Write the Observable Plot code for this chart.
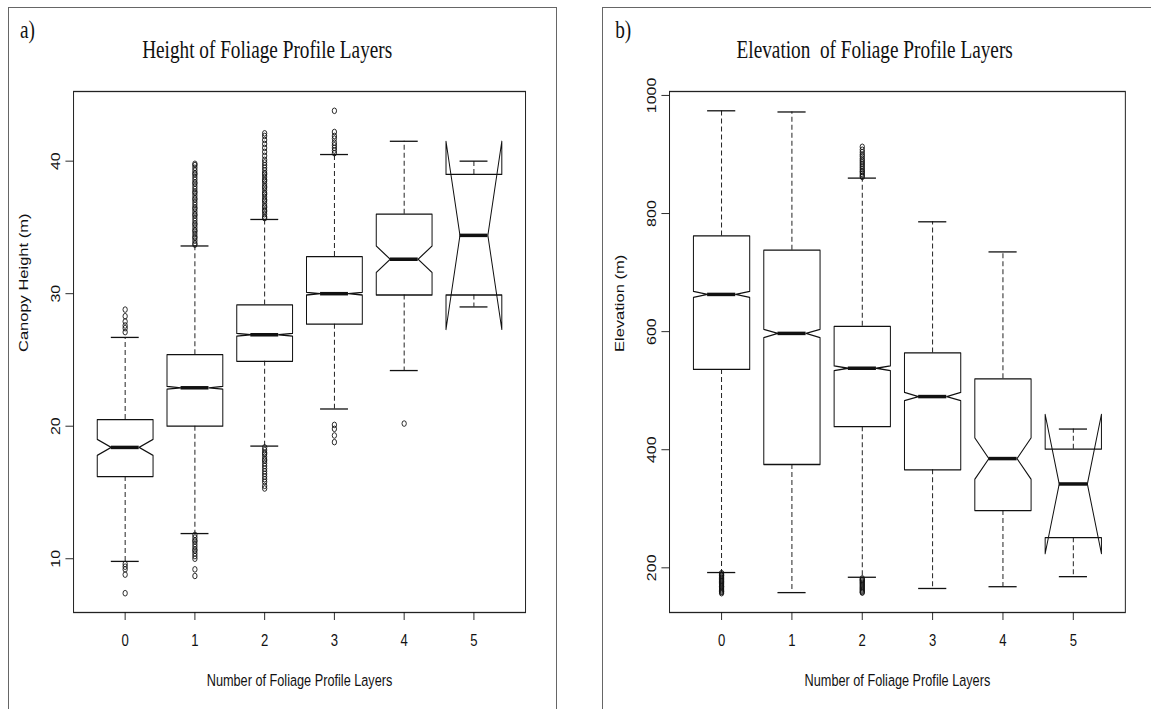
<!DOCTYPE html>
<html>
<head>
<meta charset="utf-8">
<script src="https://cdn.jsdelivr.net/npm/d3@7"></script>
<script src="https://cdn.jsdelivr.net/npm/@observablehq/plot@0.6"></script>
<style>
  html, body { margin: 0; padding: 0; background: #fff; }
  #page { position: relative; width: 1151px; height: 709px; overflow: hidden; background: #fff; }
  /* the whole figure is drawn narrower than tall, as in the printed version */
  #squeeze { position: absolute; left: 0; top: 0; width: 1495px; height: 709px;
             transform: scaleX(0.77); transform-origin: 0 0; }
  #squeeze > svg { position: absolute; top: 0; }
  .panel-border { position: absolute; border: 1.5px solid #666; box-sizing: border-box; }
  .title { font-family: "Liberation Serif", "Times New Roman", serif; fill: #111; white-space: pre; }
</style>
</head>
<body>
<div id="page">
  <div class="panel-border" style="left:8px; top:7px; width:549px; height:730px"></div>
  <div class="panel-border" style="left:602px; top:7px; width:600px; height:730px"></div>
  <div id="squeeze"></div>
</div>
<script>
// Number of foliage profile layers (one box per layer count)
const layers = [0, 1, 2, 3, 4, 5];

// a) Canopy height (m): whiskers, hinges, medians and notch half-widths
const heightLower  = [9.8, 11.9, 18.5, 21.3, 24.2, 29.0];
const heightQ1     = [16.2, 20.0, 24.9, 27.7, 29.9, 29.9];
const heightMedian = [18.4, 22.9, 26.9, 30.0, 32.6, 34.4];
const heightQ3     = [20.5, 25.4, 29.15, 32.8, 36.0, 39.0];
const heightUpper  = [26.7, 33.6, 35.6, 40.5, 41.5, 40.0];
const heightNotch  = [0.6, 0.1, 0.1, 0.1, 1.0, 7.1];
const heightOutliers = [
  [27.1, 27.4, 27.6, 27.9, 28.3, 28.8, 9.6, 9.4, 9.2, 8.8, 7.4],
  [33.7, 33.8, 34.0, 34.2, 34.3, 34.5, 34.7, 34.8, 35.0, 35.2, 35.3, 35.5, 35.7, 35.9, 36.0, 36.2,
   36.4, 36.5, 36.7, 36.9, 37.1, 37.2, 37.4, 37.6, 37.7, 37.9, 38.1, 38.3, 38.4, 38.6, 38.8, 39.0,
   39.1, 39.3, 39.5, 39.7, 39.8,
   11.8, 11.6, 11.4, 11.3, 11.1, 10.9, 10.7, 10.6, 10.4, 10.2, 10.0, 9.2, 8.7],
  [35.7, 35.8, 36.0, 36.2, 36.3, 36.5, 36.6, 36.8, 37.0, 37.1, 37.3, 37.5, 37.6, 37.8, 38.0, 38.1,
   38.3, 38.5, 38.6, 38.8, 39.0, 39.1, 39.3, 39.5, 39.7, 39.9, 40.1, 40.4, 40.7, 41.0, 41.3, 41.6,
   41.9, 42.1,
   18.4, 18.2, 18.0, 17.9, 17.7, 17.5, 17.4, 17.2, 17.0, 16.8, 16.6, 16.4, 16.2, 16.0, 15.8, 15.5, 15.3],
  [40.6, 40.8, 41.0, 41.2, 41.4, 41.7, 41.9, 42.2, 43.8, 20.1, 19.8, 19.3, 18.8],
  [20.2],
  []
];
const heightTicks = [10, 20, 30, 40];

// b) Elevation (m)
const elevLower  = [192, 158, 184, 165, 168, 185];
const elevQ1     = [536, 375, 439, 366, 297, 251];
const elevMedian = [663, 597, 538, 490, 385, 342];
const elevQ3     = [762, 738, 609, 564, 520, 401];
const elevUpper  = [974, 972, 860, 786, 735, 435];
const elevNotch  = [5, 7, 4, 7, 35, 118];
const elevOutliers = [
  [191, 189, 187, 186, 184, 182, 180, 178, 177, 175, 173, 171, 169, 168, 166, 164, 162, 160, 159, 157],
  [],
  [862, 864, 867, 870, 872, 875, 878, 881, 884, 887, 890, 893, 897, 900, 904, 908, 913,
   182, 180, 179, 177, 175, 173, 171, 169, 167, 165, 163, 161, 159, 158],
  [], [], []
];
const elevTicks = [200, 400, 600, 800, 1000];

const xLabel = "Number of Foliage Profile Layers";
const sans = "'Liberation Sans', Arial, Helvetica, sans-serif";

// Notched box-and-whisker panel in the style of R's boxplot(notch = TRUE)
function boxPanel({lower, q1, median, q3, upper, notch, outliers, ticks, yLabel,
                   width, marginLeft, marginRight}) {
  const half = 0.4, inner = 0.2, cap = 0.2;
  const stats = layers.map((layer, i) => ({
    layer, lower: lower[i], q1: q1[i], median: median[i], q3: q3[i], upper: upper[i],
    lo: median[i] - notch[i], hi: median[i] + notch[i]
  }));
  // closed outline: hinges joined through the notch at the median
  const outline = stats.flatMap(s => {
    const L = s.layer - half, R = s.layer + half;
    return [
      [L, s.q1], [R, s.q1], [R, s.lo], [s.layer + inner, s.median], [R, s.hi], [R, s.q3],
      [L, s.q3], [L, s.hi], [s.layer - inner, s.median], [L, s.lo], [L, s.q1]
    ].map(([x, y]) => ({layer: s.layer, x, y}));
  });
  const points = layers.flatMap((layer, i) => outliers[i].map(value => ({layer, value})));

  // y range as R extends it: 4% beyond the data on each side
  const all = [...lower, ...upper, ...points.map(p => p.value)];
  const [dmin, dmax] = d3.extent(all);
  const pad = 0.04 * (dmax - dmin);

  return Plot.plot({
    width, height: 709,
    marginLeft, marginRight, marginTop: 91, marginBottom: 97,
    style: {fontFamily: sans, background: "transparent", overflow: "visible", color: "#111"},
    x: {type: "linear", domain: [-0.5 - 0.24, layers.length - 0.5 + 0.24]},
    y: {domain: [dmin - pad, dmax + pad]},
    marks: [
      Plot.frame({stroke: "#222", strokeWidth: 1.3}),
      Plot.axisX(layers, {tickSize: 8, tickPadding: 13, fontSize: 17, tickFormat: d => String(d), label: null}),
      Plot.axisY(ticks, {tickSize: 10, tickRotate: -90, tickPadding: 8, fontSize: 16,
                         tickFormat: d => String(d), label: null}),
      Plot.text([xLabel], {text: d => d, frameAnchor: "bottom", dy: 73, fontSize: 16.5}),
      Plot.text([yLabel], {text: d => d, frameAnchor: "left", dx: -65, rotate: -90, fontSize: 16.5}),
      Plot.ruleX(stats, {x: "layer", y1: "q3", y2: "upper", strokeDasharray: "5,3", strokeWidth: 1.2}),
      Plot.ruleX(stats, {x: "layer", y1: "q1", y2: "lower", strokeDasharray: "5,3", strokeWidth: 1.2}),
      Plot.ruleY(stats, {y: "upper", x1: d => d.layer - cap, x2: d => d.layer + cap, strokeWidth: 1.3}),
      Plot.ruleY(stats, {y: "lower", x1: d => d.layer - cap, x2: d => d.layer + cap, strokeWidth: 1.3}),
      Plot.line(outline, {x: "x", y: "y", z: "layer", stroke: "#111", strokeWidth: 1.3, curve: "linear"}),
      Plot.ruleY(stats, {y: "median", x1: d => d.layer - inner, x2: d => d.layer + inner, strokeWidth: 3.5}),
      Plot.dot(points, {x: "layer", y: "value", r: 2.8, stroke: "#111", fill: "none", strokeWidth: 1})
    ]
  });
}

const squeeze = document.getElementById("squeeze");

const left = boxPanel({
  lower: heightLower, q1: heightQ1, median: heightMedian, q3: heightQ3, upper: heightUpper,
  notch: heightNotch, outliers: heightOutliers, ticks: heightTicks, yLabel: "Canopy Height (m)",
  width: 720, marginLeft: 95, marginRight: 38
});
left.style.left = "0px";
squeeze.appendChild(left);

const right = boxPanel({
  lower: elevLower, q1: elevQ1, median: elevMedian, q3: elevQ3, upper: elevUpper,
  notch: elevNotch, outliers: elevOutliers, ticks: elevTicks, yLabel: "Elevation (m)",
  width: 740, marginLeft: 109, marginRight: 39
});
right.style.left = "760px";
squeeze.appendChild(right);

// panel letters and titles
const ns = "http://www.w3.org/2000/svg";
const ann = document.createElementNS(ns, "svg");
ann.setAttribute("width", 1495);
ann.setAttribute("height", 120);
ann.style.left = "0px";
const titles = [
  {text: "a)", x: 26, y: 38, size: 25, anchor: "start"},
  {text: "Height of Foliage Profile Layers", x: 347, y: 58, size: 25, anchor: "middle"},
  {text: "b)", x: 799, y: 38, size: 25, anchor: "start"},
  {text: "Elevation  of Foliage Profile Layers", x: 1136, y: 58, size: 25, anchor: "middle"}
];
for (const t of titles) {
  const el = document.createElementNS(ns, "text");
  el.setAttribute("class", "title");
  el.setAttribute("x", t.x);
  el.setAttribute("y", t.y);
  el.setAttribute("font-size", t.size);
  el.setAttribute("text-anchor", t.anchor);
  el.textContent = t.text;
  ann.appendChild(el);
}
squeeze.appendChild(ann);
</script>
</body>
</html>
